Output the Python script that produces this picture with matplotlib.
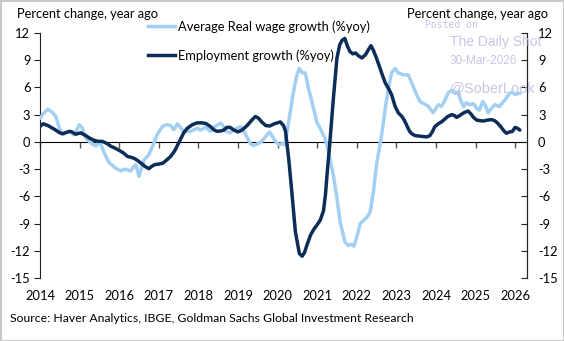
import matplotlib
matplotlib.use("Agg")
import matplotlib.pyplot as plt
from matplotlib.lines import Line2D

plt.rcParams['font.family'] = ['Lato', 'DejaVu Sans']

# Employment growth (%yoy)
emp_t = [2014.00, 2014.08, 2014.20, 2014.36, 2014.50, 2014.57, 2014.70, 2014.78, 2014.90, 2015.03,
         2015.15, 2015.24, 2015.35, 2015.45, 2015.58, 2015.70, 2015.79, 2015.90, 2016.00, 2016.10,
         2016.21, 2016.30, 2016.37, 2016.45, 2016.54, 2016.65, 2016.75, 2016.82, 2016.90, 2017.00,
         2017.10, 2017.20, 2017.30, 2017.40, 2017.47, 2017.55, 2017.63, 2017.72, 2017.85, 2017.97,
         2018.10, 2018.20, 2018.30, 2018.40, 2018.47, 2018.56, 2018.64, 2018.72, 2018.80, 2018.90,
         2019.00, 2019.10, 2019.23, 2019.35, 2019.44, 2019.52, 2019.60, 2019.70, 2019.80, 2019.92,
         2020.07, 2020.15, 2020.20, 2020.28, 2020.36, 2020.45, 2020.55, 2020.62, 2020.68, 2020.74,
         2020.83, 2020.92, 2020.99, 2021.08, 2021.16, 2021.21, 2021.25, 2021.33, 2021.41, 2021.50,
         2021.57, 2021.63, 2021.70, 2021.76, 2021.83, 2021.90, 2021.97, 2022.04, 2022.13, 2022.22,
         2022.30, 2022.36, 2022.42, 2022.50, 2022.59, 2022.66, 2022.72, 2022.80, 2022.88, 2022.97,
         2023.05, 2023.14, 2023.20, 2023.26, 2023.33, 2023.39, 2023.47, 2023.56, 2023.65, 2023.77,
         2023.85, 2023.92, 2023.97, 2024.06, 2024.14, 2024.22, 2024.30, 2024.40, 2024.47, 2024.52,
         2024.60, 2024.70, 2024.81, 2024.88, 2024.95, 2025.03, 2025.10, 2025.20, 2025.30, 2025.40,
         2025.48, 2025.55, 2025.65, 2025.72, 2025.78, 2025.86, 2025.93, 2026.00, 2026.06, 2026.12]
emp_v = [1.7, 2.0, 1.8, 1.4, 1.0, 0.9, 1.1, 1.15, 0.85, 1.0,
         0.7, 0.45, 0.2, 0.07, 0.05, -0.2, -0.48, -0.7, -0.93, -1.2,
         -1.6, -1.7, -1.8, -2.0, -2.3, -2.7, -2.95, -2.7, -2.5, -2.45,
         -2.35, -2.0, -1.6, -1.0, -0.4, 0.3, 1.0, 1.5, 1.9, 2.1,
         2.1, 2.0, 1.7, 1.3, 1.17, 1.2, 1.3, 1.6, 1.6, 1.3,
         1.1, 1.3, 1.8, 2.4, 2.8, 2.6, 2.2, 1.8, 1.75, 2.0,
         2.2, 1.8, 1.2, -1.8, -5.5, -9.9, -12.3, -12.6, -12.2, -11.4,
         -10.3, -9.6, -9.2, -8.6, -7.6, -5.8, -3.6, 0.4, 4.8, 9.25,
         10.7, 11.2, 11.4, 10.6, 9.95, 9.7, 9.8, 9.5, 9.25, 9.6,
         10.2, 10.6, 10.1, 9.2, 8.1, 7.2, 6.5, 5.9, 5.2, 3.9,
         3.2, 2.8, 2.4, 1.85, 1.2, 0.9, 0.7, 0.65, 0.6, 0.55,
         0.7, 1.2, 1.67, 2.0, 2.2, 2.5, 2.8, 3.0, 2.9, 2.7,
         2.9, 3.2, 3.4, 3.1, 2.7, 2.4, 2.35, 2.3, 2.4, 2.45,
         2.35, 2.1, 1.6, 1.2, 0.95, 1.1, 1.15, 1.6, 1.5, 1.3]

# Average Real wage growth (%yoy)
wage_t = [2014.00, 2014.10, 2014.20, 2014.30, 2014.40, 2014.49, 2014.57, 2014.66, 2014.74, 2014.86,
          2014.93, 2014.99, 2015.07, 2015.16, 2015.28, 2015.41, 2015.49, 2015.56, 2015.62, 2015.70,
          2015.75, 2015.83, 2015.91, 2016.04, 2016.15, 2016.29, 2016.36, 2016.42, 2016.50, 2016.57,
          2016.63, 2016.75, 2016.88, 2016.96, 2017.09, 2017.20, 2017.30, 2017.38, 2017.47, 2017.55,
          2017.62, 2017.80, 2017.97, 2018.05, 2018.18, 2018.30, 2018.42, 2018.56, 2018.62, 2018.70,
          2018.80, 2018.93, 2019.06, 2019.15, 2019.23, 2019.31, 2019.40, 2019.50, 2019.60, 2019.70,
          2019.80, 2019.87, 2019.94, 2020.03, 2020.12, 2020.18, 2020.24, 2020.32, 2020.40, 2020.49,
          2020.55, 2020.62, 2020.70, 2020.78, 2020.87, 2020.99, 2021.12, 2021.20, 2021.29, 2021.41,
          2021.50, 2021.58, 2021.70, 2021.78, 2021.87, 2021.93, 2022.00, 2022.09, 2022.18, 2022.26,
          2022.34, 2022.42, 2022.50, 2022.63, 2022.72, 2022.80, 2022.88, 2022.97, 2023.05, 2023.18,
          2023.30, 2023.39, 2023.51, 2023.60, 2023.70, 2023.81, 2023.93, 2024.06, 2024.14, 2024.22,
          2024.31, 2024.40, 2024.48, 2024.56, 2024.63, 2024.70, 2024.77, 2024.85, 2024.95, 2025.05,
          2025.10, 2025.18, 2025.25, 2025.32, 2025.40, 2025.49, 2025.60, 2025.74, 2025.86, 2025.93,
          2025.99, 2026.05, 2026.12]
wage_v = [2.6, 3.2, 3.6, 3.3, 2.8, 1.5, 0.8, 1.0, 1.2, 0.8,
          1.3, 1.9, 1.5, 0.4, -0.1, -0.45, 0.05, -0.5, -1.2, -1.9,
          -2.3, -2.6, -2.9, -3.2, -3.0, -3.2, -2.8, -2.5, -3.8, -2.8,
          -2.0, -1.4, -0.1, 0.8, 1.7, 1.9, 1.8, 1.35, 2.0, 1.6,
          1.17, 1.17, 1.5, 1.3, 1.6, 1.17, 1.7, 2.07, 1.8, 1.17,
          1.0, 1.4, 1.7, 1.2, 0.5, -0.2, -0.4, -0.2, 0.05, 0.6,
          1.1, 0.6, 0.1, -0.3, -0.2, -0.3, 1.1, 3.3, 5.5, 7.4,
          8.1, 7.6, 7.6, 5.9, 4.4, 2.2, 1.1, 0.37, -1.1, -3.7,
          -6.2, -8.8, -11.0, -11.4, -11.3, -11.5, -10.5, -9.0, -8.6, -8.3,
          -7.7, -5.5, -2.5, 0.8, 3.7, 5.9, 7.6, 8.1, 7.6, 7.4,
          7.4, 6.5, 5.2, 4.45, 4.2, 3.9, 3.2, 4.1, 3.9, 4.5,
          5.4, 5.7, 5.35, 5.5, 4.5, 3.9, 4.3, 4.1, 4.2, 3.6,
          3.5, 4.45, 4.0, 3.2, 3.7, 4.1, 3.9, 4.6, 5.35, 5.5,
          5.2, 5.3, 5.35]

year_ticks = list(range(2014, 2027))
y_ticks = [12, 9, 6, 3, 0, -3, -6, -9, -12, -15]
wage_label = "Average Real wage growth (%yoy)"
emp_label = "Employment growth (%yoy)"
axis_title = "Percent change, year ago"
source = "Source: Haver Analytics, IBGE, Goldman Sachs Global Investment Research"

DARK = "#0c2d57"
LIGHT = "#a3d0f2"
FS = 9.3

W, H = 564, 341
fig = plt.figure(figsize=(W / 100, H / 100), dpi=100)
fig.patch.set_edgecolor("#c8c8c8")
fig.patch.set_linewidth(2)

L, R, T, B = 40, 527, 33, 278
ax = fig.add_axes([L / W, 1 - B / H, (R - L) / W, (B - T) / H])
ax.set_xlim(2014, 2026.3)
ax.set_ylim(-15, 12)

ax.plot(wage_t, wage_v, color=LIGHT, lw=2.5, solid_capstyle='round', zorder=3)
ax.plot(emp_t, emp_v, color=DARK, lw=2.5, solid_capstyle='round', zorder=4)

for s in ['top', 'bottom']:
    ax.spines[s].set_visible(False)
ax.spines['left'].set_color('#222222')
ax.spines['right'].set_color('#222222')

ax.set_yticks(y_ticks)
ax.set_yticklabels([str(v) for v in y_ticks])
ax.tick_params(axis='y', direction='out', length=4, labelsize=FS, color='#222222', pad=3)
ax.set_xticks(year_ticks)
ax.set_xticklabels([str(y) for y in year_ticks])
ax.tick_params(axis='x', length=0, labelsize=FS, pad=9)

ax2 = ax.twinx()
ax2.set_ylim(ax.get_ylim())
ax2.set_yticks(y_ticks)
ax2.set_yticklabels([str(v) for v in y_ticks])
ax2.tick_params(axis='y', direction='in', length=4, labelsize=FS, color='#222222', pad=8)
for s in ['top', 'bottom', 'left']:
    ax2.spines[s].set_visible(False)
ax2.spines['right'].set_color('#222222')

# zero line with year ticks
sec = ax.secondary_xaxis(15 / 27)
sec.set_xticks(year_ticks, labels=[''] * len(year_ticks))
sec.tick_params(direction='in', length=4, color='#555555', width=1)
sec.spines['bottom'].set_color('#555555')
sec.spines['bottom'].set_linewidth(1)

fig.text(17 / W, 1 - 14 / H, axis_title, fontsize=FS, ha='left', va='center')
fig.text(548 / W, 1 - 14 / H, axis_title, fontsize=FS, ha='right', va='center')

handles = [Line2D([], [], color=LIGHT, lw=2.5), Line2D([], [], color=DARK, lw=2.5)]
fig.legend(handles, [wage_label, emp_label], loc='upper left',
           bbox_to_anchor=(148 / W, 1 - 20 / H), frameon=False, fontsize=FS,
           handlelength=2.1, handletextpad=0.25, labelspacing=1.3,
           borderpad=0, borderaxespad=0)

wm = "#c6c6e4"
fig.text(425 / W, 1 - 25 / H, "Posted on", fontsize=7, color=wm, family='DejaVu Sans Mono', va='center')
fig.text(450 / W, 1 - 42 / H, "The Daily Shot", fontsize=10, color=wm, family='Liberation Sans', va='center')
fig.text(450 / W, 1 - 61 / H, "30-Mar-2026", fontsize=8.5, color=wm, family='Liberation Sans', va='center')
fig.text(450 / W, 1 - 88 / H, "@SoberLook", fontsize=10.5, color=wm, family='Liberation Sans', va='center')

fig.text(10 / W, 1 - 318 / H, source, fontsize=8.8, ha='left', va='center')

fig.savefig("out.png", dpi=100)
